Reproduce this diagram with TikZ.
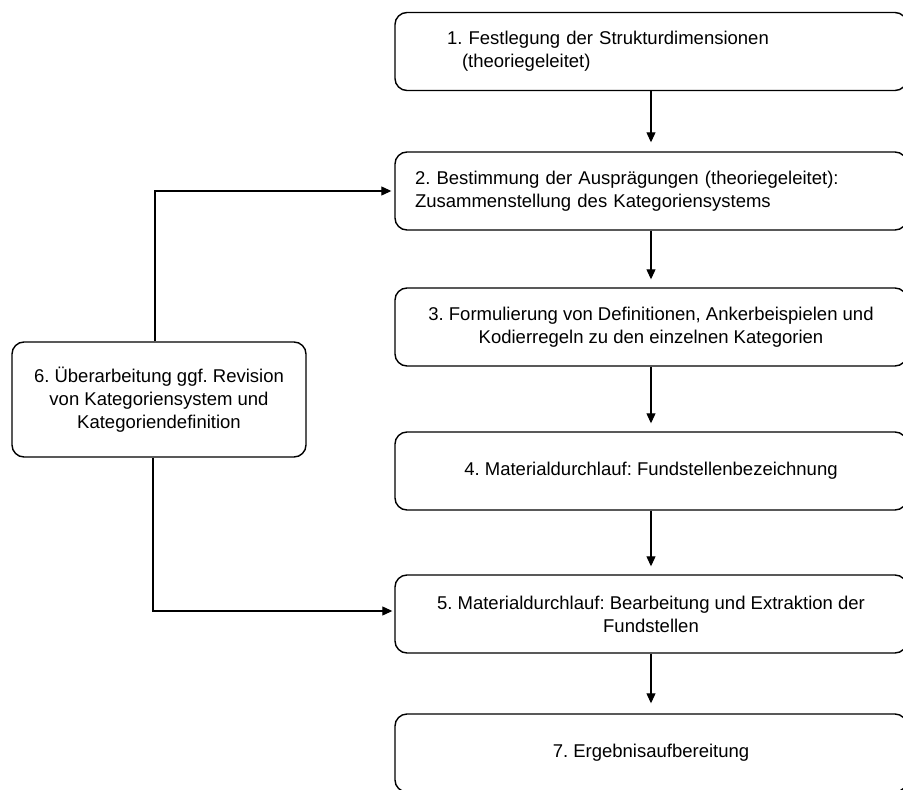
\documentclass[tikz,border=0pt]{standalone}
\usepackage{fontspec}
\setmainfont{Liberation Sans}
\usetikzlibrary{arrows.meta}
\frenchspacing
\begin{document}
\begin{tikzpicture}[x=1pt,y=-1pt,
  box/.style={draw=black, line width=1.4pt, rounded corners=12pt,
    minimum width=512pt, minimum height=78pt, inner sep=0pt,
    font=\fontsize{18.5}{23}\selectfont, align=center},
  leftbox/.style={box, align=left},
  conn/.style={line width=1.1pt, -{Triangle[length=10pt,width=9pt]}},
  plain/.style={line width=1.1pt}
]
\useasboundingbox (0,0) rectangle (903,790);
\clip (0,0) rectangle (903,790);
\fill[white] (0,0) rectangle (903,790);

\node[leftbox, text width=408pt, inner xsep=52pt] (b1) at (651,51.5)
  {1. Festlegung der Strukturdimensionen\\\hspace*{15pt}(theoriegeleitet)};
\node[leftbox, text width=472pt, inner xsep=20pt] (b2) at (651,191)
  {2. Bestimmung der Ausprägungen (theoriegeleitet):\\Zusammenstellung des Kategoriensystems};
\node[box] (b3) at (651,327)
  {3. Formulierung von Definitionen, Ankerbeispielen und\\Kodierregeln zu den einzelnen Kategorien};
\node[box] (b4) at (651,471)
  {4. Materialdurchlauf: Fundstellenbezeichnung};
\node[box] (b5) at (651,614)
  {5. Materialdurchlauf: Bearbeitung und Extraktion der\\Fundstellen};
\node[box] (b7) at (651,753)
  {7. Ergebnisaufbereitung};
\node[box, minimum width=294pt, minimum height=115pt] (b6) at (159,399.5)
  {6. Überarbeitung ggf. Revision\\von Kategoriensystem und\\Kategoriendefinition};

\draw[conn, shorten >=9pt] (b1.south) -- (b2.north);
\draw[conn, shorten >=8pt] (b2.south) -- (b3.north);
\draw[conn, shorten >=8pt] (b3.south) -- (b4.north);
\draw[conn, shorten >=8pt] (b4.south) -- (b5.north);
\draw[conn, shorten >=10pt] (b5.south) -- (b7.north);

\coordinate (t6) at ([xshift=-4pt]b6.north);
\coordinate (s6) at ([xshift=-6pt]b6.south);
\draw[conn, shorten >=3pt] (t6) |- (b2.west);
\draw[conn, shorten >=2pt] (s6) |- ([yshift=3pt]b5.west);
\end{tikzpicture}
\end{document}
